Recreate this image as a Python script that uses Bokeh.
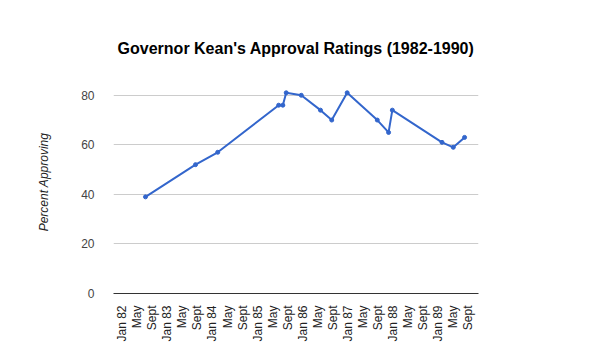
from bokeh.plotting import figure
from bokeh.models import Range1d, FixedTicker, Title
from bokeh.embed import file_html
from bokeh.resources import INLINE
from math import pi

# months since Jan 1982
months = [6.2, 19.5, 25.4, 41.6, 42.7, 43.6, 47.6, 52.7, 55.7, 59.8, 67.8, 70.8, 71.8, 85.0, 88.0, 91.0]
approval = [39, 52, 57, 76, 76, 81, 80, 74, 70, 81, 70, 65, 74, 61, 59, 63]

tick_pos = list(range(0, 93, 4))
tick_labels = ["Jan 82", "May", "Sept", "Jan 83", "May", "Sept", "Jan 84", "May", "Sept",
               "Jan 85", "May", "Sept", "Jan 86", "May", "Sept", "Jan 87", "May", "Sept",
               "Jan 88", "May", "Sept", "Jan 89", "May", "Sept"]
y_ticks = [0, 20, 40, 60, 80]

FONT = "Liberation Sans"

p = figure(width=590, height=364, output_backend="svg", toolbar_location=None,
           x_range=Range1d(-2.3, 94.7), y_range=Range1d(0, 90),
           min_border_left=113, min_border_right=112, min_border_top=70, min_border_bottom=71,
           title=None)
p.outline_line_color = None
p.background_fill_color = "white"
p.border_fill_color = "white"

p.line(months, approval, line_color="#3366cc", line_width=2)
p.scatter(months, approval, size=4, color="#3366cc")

p.xgrid.grid_line_color = None
p.ygrid.grid_line_color = "#cccccc"
p.ygrid.ticker = FixedTicker(ticks=y_ticks)

xa = p.xaxis[0]
xa.ticker = FixedTicker(ticks=tick_pos)
xa.major_label_overrides = {t: l for t, l in zip(tick_pos, tick_labels)}
xa.major_label_orientation = pi / 2
xa.major_tick_line_color = None
xa.minor_tick_line_color = None
xa.axis_line_color = "#333333"
xa.major_label_text_font = FONT
xa.major_label_text_font_size = "12px"
xa.major_label_text_color = "#222222"
xa.major_label_standoff = 6

ya = p.yaxis[0]
ya.ticker = FixedTicker(ticks=y_ticks)
ya.axis_line_color = None
ya.major_tick_line_color = None
ya.minor_tick_line_color = None
ya.major_label_text_font = FONT
ya.major_label_text_font_size = "12px"
ya.major_label_text_color = "#444444"
ya.major_label_standoff = 13
ya.axis_label = "Percent Approving"
ya.axis_label_text_font = FONT
ya.axis_label_text_font_size = "12px"
ya.axis_label_text_font_style = "italic"
ya.axis_label_text_color = "#222222"
ya.axis_label_standoff = 27

title = Title(text="Governor Kean's Approval Ratings (1982-1990)", align="center",
              text_font=FONT, text_font_size="16px", text_font_style="bold",
              text_color="#000000", standoff=28)
p.add_layout(title, "above")

open("out.html", "w").write(file_html(p, INLINE))
